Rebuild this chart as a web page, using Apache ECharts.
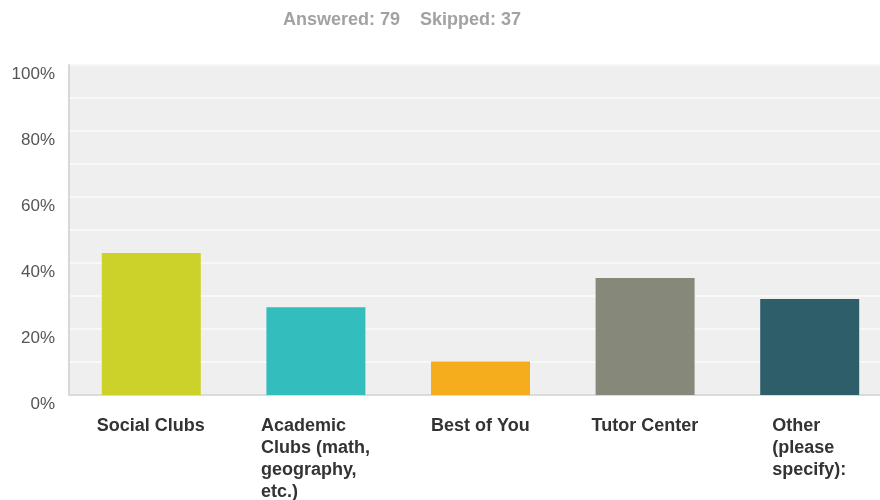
<!DOCTYPE html>
<html>
<head>
<meta charset="utf-8">
<script src="https://cdn.jsdelivr.net/npm/echarts@6/dist/echarts.min.js"></script>
<style>
  html, body { margin: 0; padding: 0; background: #ffffff; }
  #chart { width: 880px; height: 500px; }
</style>
</head>
<body>
<div id="chart"></div>
<script>
// Survey responses: share of respondents choosing each option
const categories = [
  'Social Clubs',
  'Academic\nClubs (math,\ngeography,\netc.)',
  'Best of You',
  'Tutor Center',
  'Other\n(please\nspecify):'
];
const percentValues = [43.04, 26.58, 10.13, 35.44, 29.11];
const barColors = ['#cdd22a', '#33bdbd', '#f6ad1d', '#86887a', '#2d5e6a'];
const answeredCount = 79;
const skippedCount = 37;

const labelFont = 'bold 18px "Liberation Sans", Arial, sans-serif';

// Each category label is a left-aligned block centred under its bar,
// so every label gets a rich style as wide as its longest line.
const measureCtx = document.createElement('canvas').getContext('2d');
measureCtx.font = labelFont;
const labelRich = {};
categories.forEach(function (name, i) {
  const w = Math.max.apply(null, name.split('\n').map(function (l) {
    return measureCtx.measureText(l).width;
  }));
  labelRich['c' + i] = {
    width: Math.ceil(w),
    align: 'left',
    fontFamily: '"Liberation Sans", Arial, sans-serif',
    fontSize: 18,
    fontWeight: 'bold',
    lineHeight: 22,
    color: '#333333'
  };
});

const chart = echarts.init(document.getElementById('chart'), null, { renderer: 'canvas' });

chart.setOption({
  animation: false,
  backgroundColor: '#ffffff',
  title: {
    text: 'Answered: ' + answeredCount + '    Skipped: ' + skippedCount,
    left: 278,
    top: 6,
    textStyle: {
      fontFamily: 'Liberation Sans, Arial, sans-serif',
      fontSize: 18,
      fontWeight: 'bold',
      color: '#a2a2a2'
    }
  },
  grid: {
    left: 69,
    top: 65,
    width: 823,
    height: 330,
    show: true,
    backgroundColor: '#efefef',
    borderWidth: 0,
    outerBoundsMode: 'none',
    containLabel: false
  },
  xAxis: {
    type: 'category',
    data: categories,
    axisTick: { show: false },
    axisLine: { show: true, lineStyle: { color: '#d9dbdd', width: 2 } },
    axisLabel: {
      interval: 0,
      margin: 20,
      align: 'center',
      formatter: function (v) {
        const key = 'c' + categories.indexOf(v);
        return v.split('\n').map(function (l) { return '{' + key + '|' + l + '}'; }).join('\n');
      },
      rich: labelRich
    }
  },
  yAxis: {
    type: 'value',
    min: 0,
    max: 100,
    interval: 10,
    axisTick: { show: false },
    axisLine: { show: true, lineStyle: { color: '#d4d8db', width: 2 } },
    splitLine: { show: true, lineStyle: { color: '#f8f8f8', width: 2 } },
    axisLabel: {
      margin: 14,
      verticalAlign: 'top',
      padding: [1, 0, 0, 0],
      fontFamily: 'Liberation Sans, Arial, sans-serif',
      fontSize: 17,
      color: '#555555',
      formatter: function (v) { return v % 20 === 0 ? v + '%' : ''; }
    }
  },
  series: [{
    type: 'bar',
    barWidth: 99,
    data: percentValues.map(function (v, i) {
      return { value: v, itemStyle: { color: barColors[i] } };
    })
  }]
});
</script>
</body>
</html>
